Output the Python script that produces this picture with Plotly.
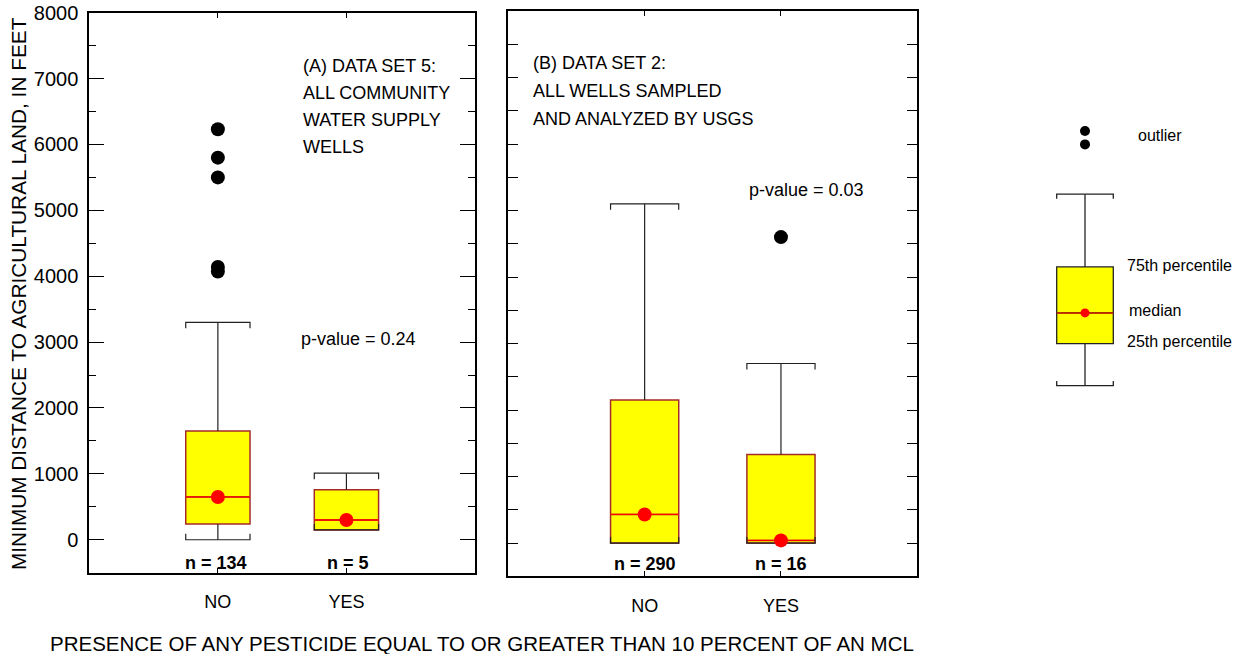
import plotly.graph_objects as go

# ---------------------------------------------------------------------------
# Data
# ---------------------------------------------------------------------------
categories = ["NO", "YES"]

# (A) Data set 5: all community water supply wells
a_lower = [0, 150]
a_q1 = [240, 150]
a_median = [650, 300]
a_q3 = [1650, 760]
a_upper = [3300, 1010]
a_outliers_no = [6230, 5800, 5500, 4140, 4070]
a_outliers_yes = []
a_counts = [134, 5]
a_pvalue = "0.24"

# (B) Data set 2: all wells sampled and analyzed by USGS
b_lower = [0, 0]
b_q1 = [0, 0]
b_median = [430, 40]
b_q3 = [2150, 1330]
b_upper = [5100, 2700]
b_outliers_no = []
b_outliers_yes = [4600]
b_counts = [290, 16]
b_pvalue = "0.03"

# Explanation box (arbitrary units)
key_lower, key_q1, key_median, key_q3, key_upper = 0.0, 1.1, 1.9, 3.1, 5.0
key_outliers = [6.3, 6.65]

# ---------------------------------------------------------------------------
# Styling
# ---------------------------------------------------------------------------
W, H = 1247, 654
FONT = "Arial, Liberation Sans, sans-serif"
BOX_FILL = "#ffff00"
BOX_EDGE = "#a52a2a"
MEDIAN_RED = "#ff0000"
BOX_WIDTH = 0.5


def fx(px):
    return px / W


def fy(py):
    return 1 - py / H


def whisker_path(pos, lower, q1, q3, upper, half, tick):
    xs, ys = [], []
    for x, lo, b1, b3, hi in zip(pos, lower, q1, q3, upper):
        # stems
        xs += [x, x, None, x, x, None]
        ys += [b3, hi, None, lo, b1, None]
        # upper cap with end ticks pointing down
        xs += [x - half, x - half, x + half, x + half, None]
        ys += [hi - tick, hi, hi, hi - tick, None]
        # lower cap with end ticks pointing up
        xs += [x - half, x - half, x + half, x + half, None]
        ys += [lo + tick, lo, lo, lo + tick, None]
    return xs, ys


def median_path(pos, med, half):
    xs, ys = [], []
    for x, m in zip(pos, med):
        xs += [x - half, x + half, None]
        ys += [m, m, None]
    return xs, ys


fig = go.Figure()

panels = [
    ("x", "y", a_lower, a_q1, a_median, a_q3, a_upper, a_outliers_no, a_outliers_yes),
    ("x2", "y2", b_lower, b_q1, b_median, b_q3, b_upper, b_outliers_no, b_outliers_yes),
]
pos = list(range(len(categories)))

for xa, ya, lo, q1, med, q3, hi, out_no, out_yes in panels:
    fig.add_trace(go.Box(
        x=pos, q1=q1, median=med, q3=q3, lowerfence=q1, upperfence=q3,
        width=BOX_WIDTH, fillcolor=BOX_FILL,
        line=dict(color=BOX_EDGE, width=1.5), boxpoints=False,
        xaxis=xa, yaxis=ya, hoverinfo="skip", showlegend=False,
    ))
    mx, my = median_path(pos, med, BOX_WIDTH / 2)
    fig.add_trace(go.Scatter(
        x=mx, y=my, mode="lines", line=dict(color=MEDIAN_RED, width=1.3),
        xaxis=xa, yaxis=ya, hoverinfo="skip", showlegend=False,
    ))
    wx, wy = whisker_path(pos, lo, q1, q3, hi, BOX_WIDTH / 2, 90)
    fig.add_trace(go.Scatter(
        x=wx, y=wy, mode="lines", line=dict(color="#222222", width=1.2),
        xaxis=xa, yaxis=ya, hoverinfo="skip", showlegend=False,
    ))
    fig.add_trace(go.Scatter(
        x=pos, y=med, mode="markers",
        marker=dict(color=MEDIAN_RED, size=14, line=dict(width=0)),
        xaxis=xa, yaxis=ya, hoverinfo="skip", showlegend=False,
    ))
    ox = [0] * len(out_no) + [1] * len(out_yes)
    oy = list(out_no) + list(out_yes)
    fig.add_trace(go.Scatter(
        x=ox, y=oy, mode="markers",
        marker=dict(color="black", size=14, line=dict(width=0)),
        xaxis=xa, yaxis=ya, hoverinfo="skip", showlegend=False,
    ))

# Explanation box
fig.add_trace(go.Box(
    x=[0], q1=[key_q1], median=[key_median], q3=[key_q3],
    lowerfence=[key_q1], upperfence=[key_q3], width=1.0, fillcolor=BOX_FILL,
    line=dict(color="#222222", width=1.3), boxpoints=False,
    xaxis="x3", yaxis="y3", hoverinfo="skip", showlegend=False,
))
kx, ky = median_path([0], [key_median], 0.5)
fig.add_trace(go.Scatter(
    x=kx, y=ky, mode="lines", line=dict(color="#d02000", width=1.5),
    xaxis="x3", yaxis="y3", hoverinfo="skip", showlegend=False,
))
kwx, kwy = whisker_path([0], [key_lower], [key_q1], [key_q3], [key_upper], 0.5, 0.12)
fig.add_trace(go.Scatter(
    x=kwx, y=kwy, mode="lines", line=dict(color="#222222", width=1.3),
    xaxis="x3", yaxis="y3", hoverinfo="skip", showlegend=False,
))
fig.add_trace(go.Scatter(
    x=[0], y=[key_median], mode="markers",
    marker=dict(color=MEDIAN_RED, size=9, line=dict(width=0)),
    xaxis="x3", yaxis="y3", hoverinfo="skip", showlegend=False,
))
fig.add_trace(go.Scatter(
    x=[0] * len(key_outliers), y=key_outliers, mode="markers",
    marker=dict(color="black", size=10, line=dict(width=0)),
    xaxis="x3", yaxis="y3", hoverinfo="skip", showlegend=False,
))

# ---------------------------------------------------------------------------
# Axes
# ---------------------------------------------------------------------------
common_x = dict(
    range=[-1, 2], tickmode="array", tickvals=pos, ticktext=categories,
    ticks="inside", ticklen=5, tickcolor="black", showline=True,
    linecolor="black", linewidth=2, mirror="ticks", showgrid=False,
    zeroline=False, ticklabelstandoff=12, automargin=False,
    tickfont=dict(family=FONT, size=18, color="black"),
)
fig.update_layout(
    template="none",
    xaxis=dict(domain=[fx(89.3), fx(475)], anchor="y", **common_x),
    yaxis=dict(
        domain=[fy(572.7), fy(12.7)], anchor="x", range=[-500, 8000],
        tickmode="linear", tick0=0, dtick=1000, ticks="inside", ticklen=15,
        tickcolor="black", showline=True, linecolor="black", linewidth=2,
        mirror="ticks", showgrid=False, zeroline=False, automargin=False,
        minor=dict(dtick=500, tick0=0, ticks="inside", ticklen=7, tickcolor="black"),
        ticklabelstandoff=5,
        tickfont=dict(family=FONT, size=20, color="black"),
    ),
    xaxis2=dict(domain=[fx(508.3), fx(917.3)], anchor="y2", **common_x),
    yaxis2=dict(
        domain=[fy(576.3), fy(11)], anchor="x2", range=[-500, 8000],
        tickmode="linear", tick0=0, dtick=500, ticks="inside", ticklen=10,
        tickcolor="black", showline=True, linecolor="black", linewidth=2,
        mirror="ticks", showgrid=False, zeroline=False, showticklabels=False,
        automargin=False,
    ),
    xaxis3=dict(
        domain=[fx(1040), fx(1240)], anchor="y3",
        range=[(1040 - 1085) / 56.6, (1240 - 1085) / 56.6],
        visible=False, showgrid=False, zeroline=False, automargin=False,
    ),
    yaxis3=dict(
        domain=[fy(400), fy(100)], anchor="x3",
        range=[(385.7 - 400) / 38.3, (385.7 - 100) / 38.3],
        visible=False, showgrid=False, zeroline=False, automargin=False,
    ),
    width=W, height=H,
    margin=dict(l=0, r=0, t=0, b=0, pad=0),
    paper_bgcolor="white", plot_bgcolor="white",
    showlegend=False,
    font=dict(family=FONT, color="black"),
)

# ---------------------------------------------------------------------------
# Text
# ---------------------------------------------------------------------------
ann = []


def text(px, py, s, size=18, anchor="left", bold=False, angle=0):
    ann.append(dict(
        x=fx(px), y=fy(py), xref="paper", yref="paper",
        text=f"<b>{s}</b>" if bold else s, showarrow=False,
        xanchor=anchor, yanchor="middle", textangle=angle,
        font=dict(family=FONT, size=size, color="black"),
    ))


for i, line in enumerate(["(A) DATA SET 5:", "ALL COMMUNITY", "WATER SUPPLY", "WELLS"]):
    text(301, 66 + i * 26.9, line)
text(299, 339, f"p-value = {a_pvalue}")

for i, line in enumerate(["(B) DATA SET 2:", "ALL WELLS SAMPLED", "AND ANALYZED BY USGS"]):
    text(531, 63 + i * 27.9, line)
text(746.7, 190, f"p-value = {b_pvalue}")

for px, n in zip([216, 348], a_counts):
    text(px, 562.5, f"n = {n}", anchor="center", bold=True)
for px, n in zip([645, 781], b_counts):
    text(px, 564, f"n = {n}", anchor="center", bold=True)

text(18, 294, "MINIMUM DISTANCE TO AGRICULTURAL LAND, IN FEET", size=20.8,
     anchor="center", angle=-90)
text(482, 643, "PRESENCE OF ANY PESTICIDE EQUAL TO OR GREATER THAN 10 PERCENT OF AN MCL",
     size=20.5, anchor="center")

text(1135.7, 135, "outlier", size=16)
text(1125, 266, "75th percentile", size=16)
text(1127.3, 310, "median", size=16)
text(1125, 341, "25th percentile", size=16)

fig.update_layout(annotations=ann)

fig.write_html("out.html")
